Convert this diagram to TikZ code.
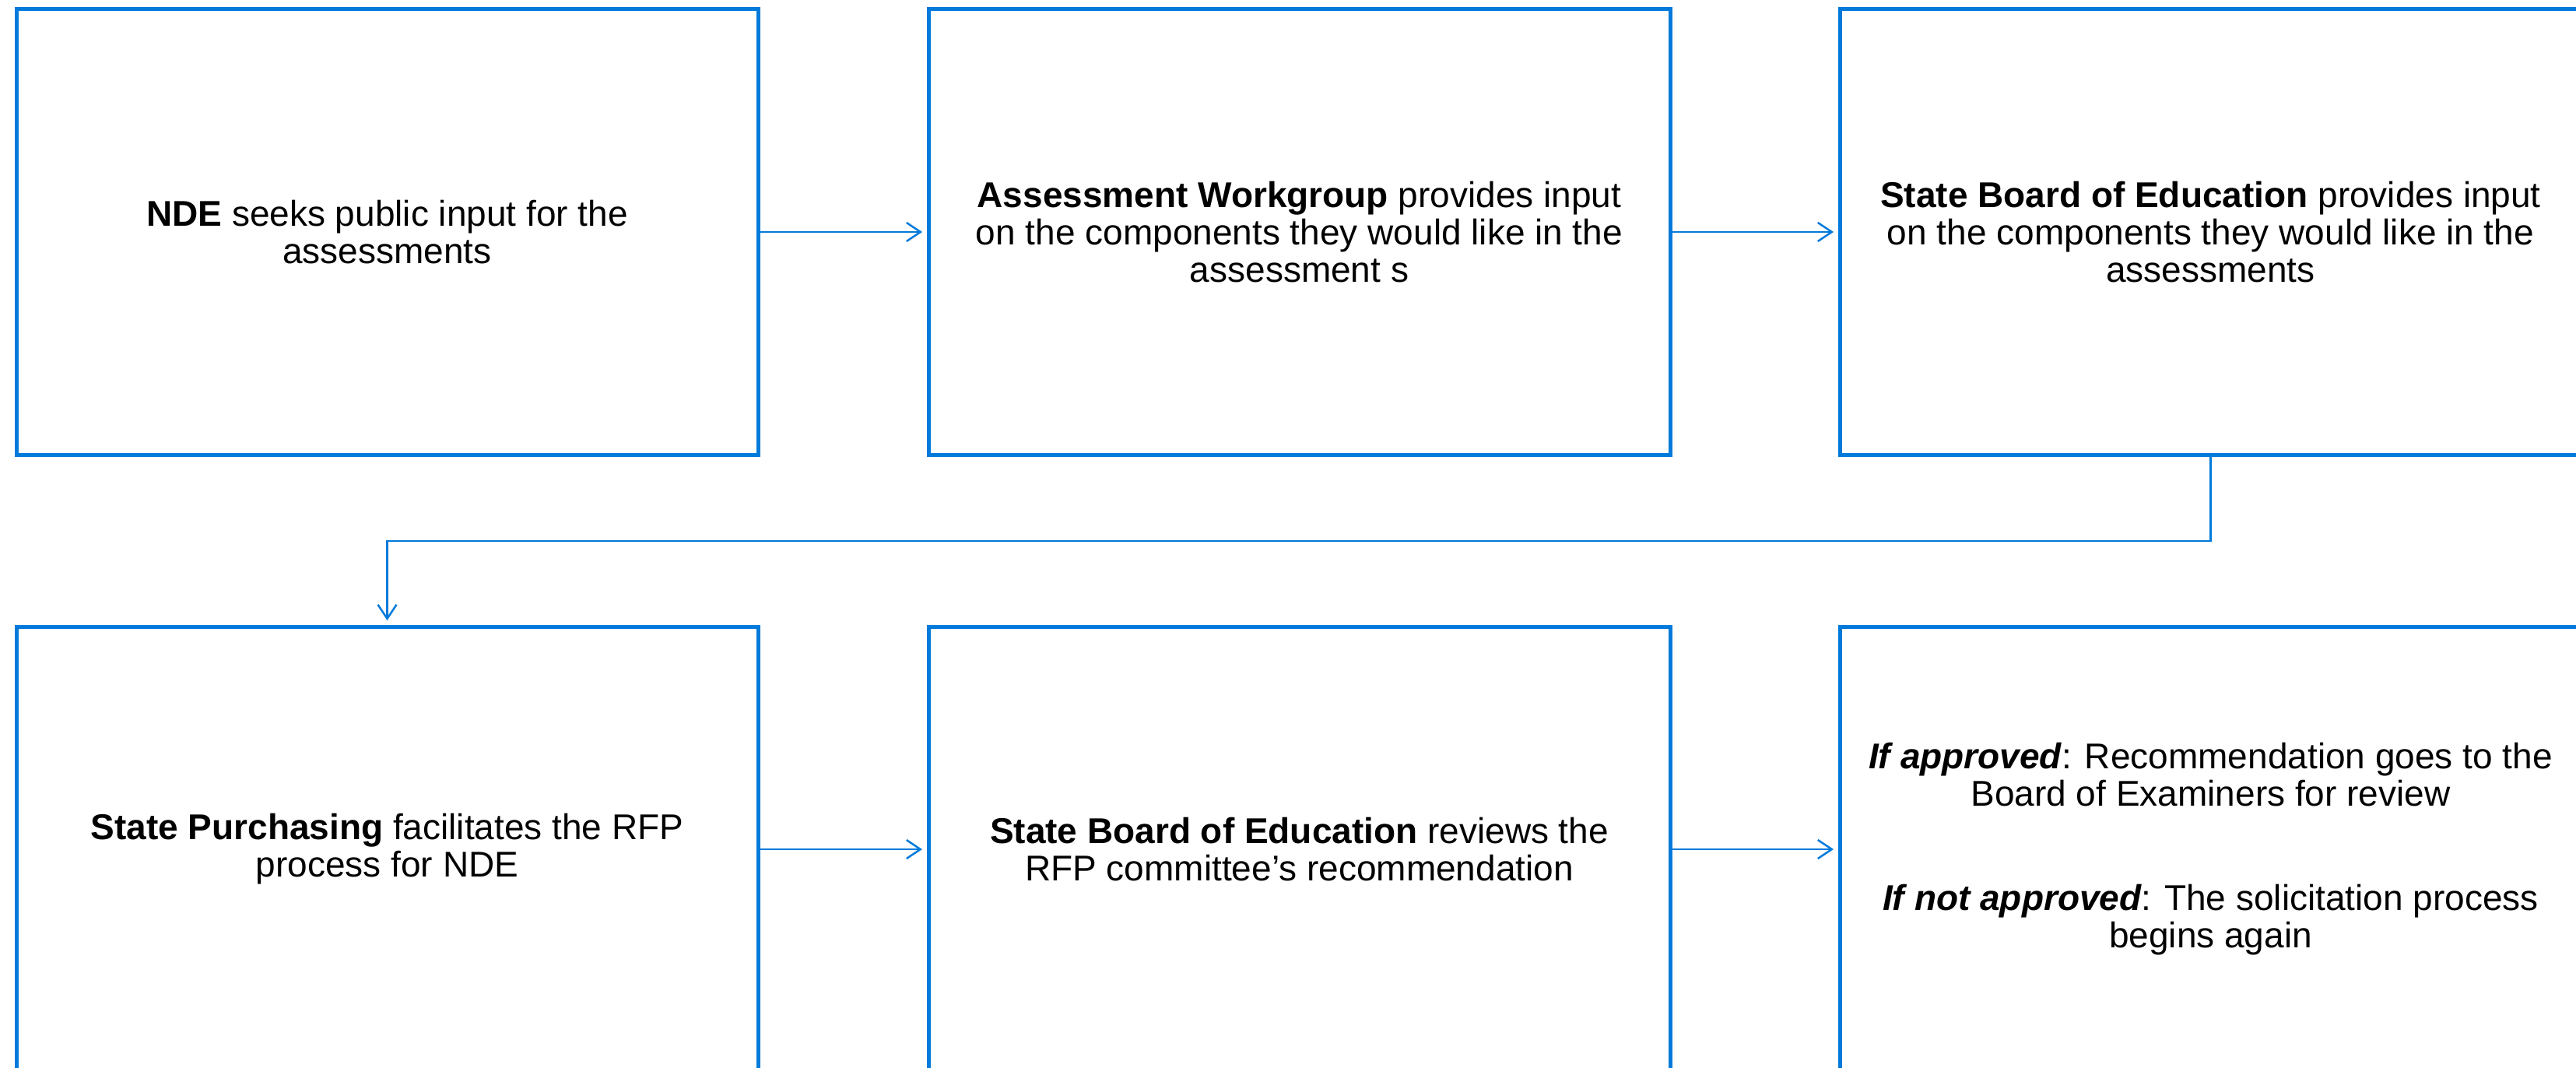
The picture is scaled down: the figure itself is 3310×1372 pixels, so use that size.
\documentclass[tikz,border=0pt]{standalone}
\usepackage{fontspec}
\setmainfont{Liberation Sans}
\usetikzlibrary{arrows.meta}
\definecolor{flowblue}{RGB}{0,122,218}
\begin{document}
\begin{tikzpicture}[x=1pt,y=-1pt,
  stepbox/.style={draw=flowblue,line width=5pt,minimum width=953pt,minimum height=572pt,inner sep=0pt,outer sep=0pt},
  boxtext/.style={align=center,font=\fontsize{46}{48}\selectfont,inner sep=0pt},
  flowarrow/.style={draw=flowblue,line width=2.5pt,-{Straight Barb[length=18pt,width=24pt,line width=2.5pt]},shorten >=8pt}]
\useasboundingbox (0,0) rectangle (3310,1372);
\node[stepbox] (b1) at (497.5,298) {};
\node[stepbox] (b2) at (1669.5,298) {};
\node[stepbox] (b3) at (2840.5,298) {};
\node[stepbox] (b4) at (497.5,1091) {};
\node[stepbox] (b5) at (1669.5,1091) {};
\node[stepbox] (b6) at (2840.5,1091) {};
\node[boxtext] (t1) at (b1.center) {\textbf{NDE} seeks public input for the\\assessments};
\node[boxtext] (t2) at (b2.center) {\textbf{Assessment Workgroup} provides input\\on the components they would like in the\\assessment s};
\node[boxtext] (t3) at (b3.center) {\textbf{State Board of Education} provides input\\on the components they would like in the\\assessments};
\node[boxtext] (t4) at (b4.center) {\textbf{State Purchasing} facilitates the RFP\\process for NDE};
\node[boxtext] (t5) at (b5.center) {\textbf{State Board of Education} reviews the\\RFP committee’s recommendation};
\node[boxtext] (t6) at (b6.center) {{\bfseries\itshape If approved}: Recommendation goes to the\\Board of Examiners for review\\[86pt]{\bfseries\itshape If not approved}: The solicitation process\\begins again};
\coordinate (c1) at (2840.5,695);
\coordinate (c2) at (497.5,695);
\draw[flowarrow] (b1.east) -- (b2.west);
\draw[flowarrow] (b2.east) -- (b3.west);
\draw[flowarrow] (b4.east) -- (b5.west);
\draw[flowarrow] (b5.east) -- (b6.west);
\draw[flowarrow] (b3.south) -- (c1) -- (c2) -- (b4.north);
\end{tikzpicture}
\end{document}
